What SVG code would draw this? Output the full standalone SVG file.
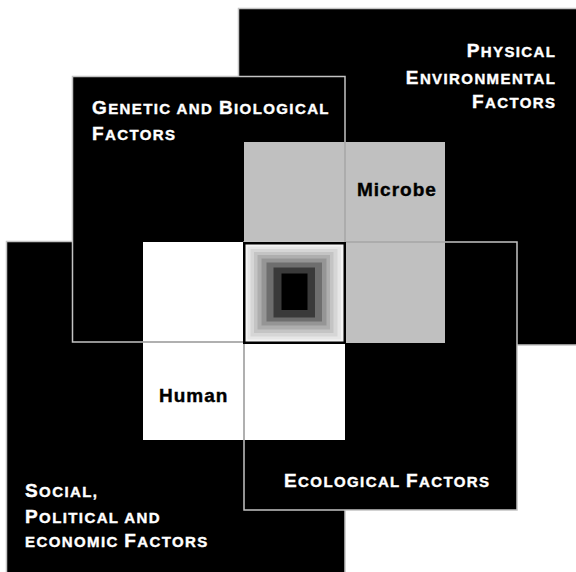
<svg xmlns="http://www.w3.org/2000/svg" width="576" height="572" viewBox="0 0 576 572">
<style>
.frame{fill:#000;stroke:#c4c4c4;stroke-width:1.5}
.fill{fill:#000}
.edge{fill:none;stroke:#c4c4c4;stroke-width:1.5}
.gline{stroke:#a4a4a4;stroke-width:1.5}
.t{font-family:"Liberation Sans",Arial,Helvetica,sans-serif;font-weight:bold;fill:#fff;stroke:#fff;stroke-width:0.4px;letter-spacing:1.4px}
.b{font-size:19px}
.s{font-size:15px}
.lbl{font-family:"Liberation Sans",Arial,Helvetica,sans-serif;font-weight:bold;font-size:19px;fill:#000;stroke:#000;stroke-width:0.4px;letter-spacing:1px}
</style>
<rect width="576" height="572" fill="#fff"/>
<g id="physical">
  <rect class="frame" x="238.5" y="8.5" width="345" height="336.5"/>
  <text class="t" text-anchor="end" x="556.4" y="57"><tspan class="b">P</tspan><tspan class="s">HYSICAL</tspan></text>
  <text class="t" text-anchor="end" x="556.4" y="84"><tspan class="b">E</tspan><tspan class="s">NVIRONMENTAL</tspan></text>
  <text class="t" text-anchor="end" x="556.4" y="108"><tspan class="b">F</tspan><tspan class="s">ACTORS</tspan></text>
</g>
<g id="social">
  <rect class="frame" x="6.5" y="241.5" width="338.5" height="345"/>
  <text class="t" x="25" y="497"><tspan class="b">S</tspan><tspan class="s">OCIAL,</tspan></text>
  <text class="t" x="25" y="523"><tspan class="b">P</tspan><tspan class="s">OLITICAL AND</tspan></text>
  <text class="t" x="25" y="547"><tspan class="s">ECONOMIC </tspan><tspan class="b">F</tspan><tspan class="s">ACTORS</tspan></text>
</g>
<g id="genetic">
  <rect class="fill" x="72.5" y="76.5" width="272.5" height="265.5"/>
  <text class="t" x="92" y="114"><tspan class="b">G</tspan><tspan class="s">ENETIC AND </tspan><tspan class="b">B</tspan><tspan class="s">IOLOGICAL</tspan></text>
  <text class="t" x="92" y="140"><tspan class="b">F</tspan><tspan class="s">ACTORS</tspan></text>
</g>
<g id="ecological">
  <rect class="fill" x="244" y="242" width="273" height="268"/>
  <text class="t" x="284" y="487"><tspan class="b">E</tspan><tspan class="s">COLOGICAL </tspan><tspan class="b">F</tspan><tspan class="s">ACTORS</tspan></text>
</g>
<g id="microbe">
  <path d="M244,142H445V343H345V242H244Z" fill="#c0c0c0"/>
  <text class="lbl" x="357" y="196">Microbe</text>
</g>
<g id="human">
  <path d="M143,242H244V343H345V440H143Z" fill="#fff"/>
  <text class="lbl" x="159" y="402">Human</text>
</g>
<g id="frame-edges">
  <rect class="edge" x="72.5" y="76.5" width="272.5" height="265.5"/>
  <rect class="edge" x="244" y="242" width="273" height="268"/>
  <line class="gline" x1="345" y1="142" x2="345" y2="242"/>
  <line class="gline" x1="345" y1="242" x2="445" y2="242"/>
  <line class="gline" x1="143" y1="342" x2="244" y2="342"/>
  <line class="gline" x1="244" y1="343" x2="244" y2="440"/>
</g>
<g id="center">
  <rect x="244.25" y="243.25" width="100.5" height="99.5" fill="#f4f4f4" stroke="#000" stroke-width="2.5"/>
  <rect x="247.5" y="246.5" width="93.5" height="93" fill="#e6e6e6"/>
  <rect x="250.5" y="249" width="87" height="87.5" fill="#d6d6d6"/>
  <rect x="254" y="252" width="79.5" height="81" fill="#c4c4c4"/>
  <rect x="257.5" y="255" width="72.5" height="74.5" fill="#aeaeae"/>
  <rect x="261.5" y="258.5" width="65" height="67" fill="#959595"/>
  <rect x="266.5" y="262.5" width="55.5" height="59" fill="#6e6e6e"/>
  <rect x="273.5" y="267.5" width="41.5" height="50" fill="#3a3a3a"/>
  <rect x="281.5" y="273.5" width="26" height="36.5" fill="#000"/>
</g>
</svg>
